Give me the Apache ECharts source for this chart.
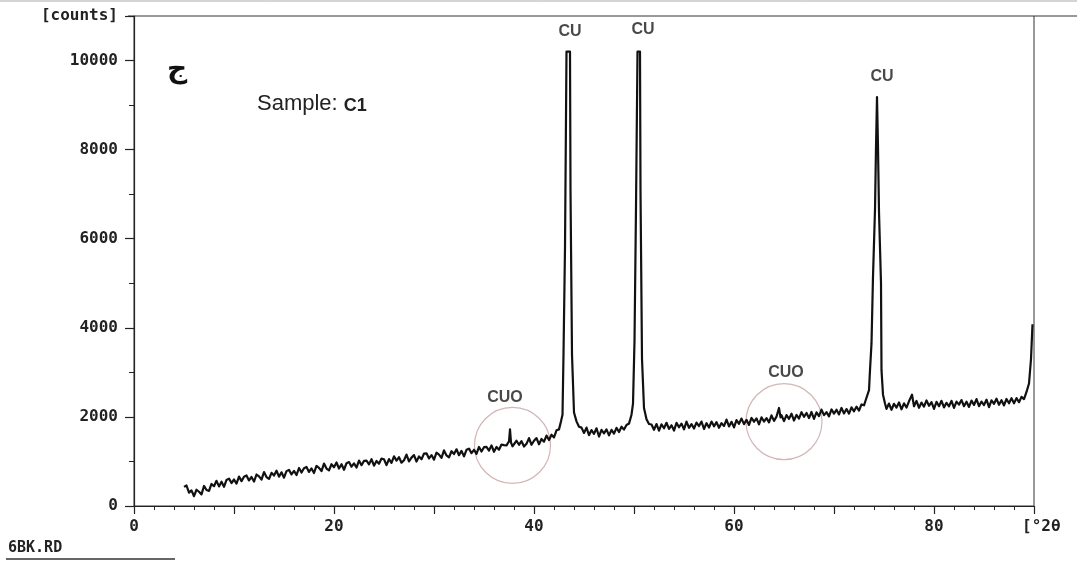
<!DOCTYPE html>
<html>
<head>
<meta charset="utf-8">
<script src="https://cdn.jsdelivr.net/npm/echarts@6/dist/echarts.min.js"></script>
<style>
html,body{margin:0;padding:0;background:#fff;}
#chart{width:1077px;height:563px;}
</style>
</head>
<body>
<div id="chart"></div>
<script>
// X-ray diffraction scan: [2θ (degrees), counts]
const scan = [
[5.00,430],[5.25,460],[5.50,300],[5.75,350],[6.00,220],[6.25,365],[6.50,320],[6.75,260],
[7.00,450],[7.25,360],[7.50,340],[7.75,495],[8.00,445],[8.25,565],[8.50,440],[8.75,545],
[9.00,430],[9.25,585],[9.50,615],[9.75,515],[10.00,595],[10.25,503],[10.50,661],[10.75,559],
[11.00,657],[11.25,685],[11.50,573],[11.75,651],[12.00,549],[12.25,707],[12.50,665],[12.75,593],
[13.00,761],[13.25,649],[13.50,607],[13.75,745],[14.00,683],[14.25,791],[14.50,659],[14.75,757],
[15.00,635],[15.25,783],[15.50,811],[15.75,709],[16.00,787],[16.25,695],[16.50,853],[16.75,751],
[17.00,849],[17.25,877],[17.50,765],[17.75,843],[18.00,741],[18.25,899],[18.50,857],[18.75,785],
[19.00,953],[19.25,841],[19.50,799],[19.75,937],[20.00,870],[20.25,976],[20.50,842],[20.75,938],
[21.00,814],[21.25,960],[21.50,986],[21.75,882],[22.00,958],[22.25,864],[22.50,1020],[22.75,916],
[23.00,1012],[23.25,1018],[23.50,934],[23.75,1050],[24.00,906],[24.25,1012],[24.50,948],[24.75,1064],
[25.00,1050],[25.25,916],[25.50,1052],[25.75,968],[26.00,1114],[26.25,1020],[26.50,1096],[26.75,972],
[27.00,1028],[27.25,1154],[27.50,1000],[27.75,1086],[28.00,1142],[28.25,998],[28.50,1114],[28.75,1050],
[29.00,1176],[29.25,1182],[29.50,1068],[29.75,1144],[30.00,1040],[30.25,1197],[30.50,1154],[30.75,1081],
[31.00,1248],[31.25,1135],[31.50,1092],[31.75,1229],[32.00,1166],[32.25,1273],[32.50,1140],[32.75,1237],
[33.00,1114],[33.25,1261],[33.50,1288],[33.75,1185],[34.00,1262],[34.25,1169],[34.50,1326],[34.75,1223],
[35.00,1320],[35.25,1327],[35.50,1244],[35.75,1361],[36.00,1218],[36.25,1325],[36.50,1262],[36.75,1379],
[37.00,1366],[37.25,1363],[37.40,1390],[37.50,1450],[37.60,1720],[37.70,1430],[37.85,1340],[38.00,1315],
[38.25,1465],[38.50,1375],[38.75,1455],[39.00,1335],[39.25,1395],[39.50,1525],[39.75,1375],[40.00,1465],
[40.25,1525],[40.50,1385],[40.75,1505],[41.00,1445],[41.25,1580],[41.50,1480],[41.75,1600],[42.00,1540],
[42.25,1700],[42.50,1720],[42.70,1900],[42.85,2050],[42.95,3400],[43.10,5800],[43.25,10200],[43.60,10200],
[43.65,7100],[43.80,3400],[44.00,2100],[44.25,1900],[44.50,1780],[44.75,1760],[45.00,1640],[45.25,1760],
[45.50,1590],[45.75,1705],[46.00,1620],[46.25,1745],[46.50,1560],[46.75,1710],[47.00,1630],[47.25,1720],
[47.50,1585],[47.75,1710],[48.00,1625],[48.25,1755],[48.50,1660],[48.75,1780],[49.00,1715],[49.25,1820],
[49.50,1850],[49.75,2050],[49.90,2300],[50.05,3700],[50.20,6700],[50.35,10200],[50.60,10200],[50.65,7100],
[50.80,3300],[51.00,2200],[51.25,1950],[51.50,1840],[51.75,1830],[52.00,1710],[52.25,1840],[52.50,1692],
[52.75,1834],[53.00,1746],[53.25,1868],[53.50,1730],[53.75,1812],[54.00,1694],[54.25,1866],[54.50,1768],
[54.75,1850],[55.00,1722],[55.25,1894],[55.50,1756],[55.75,1838],[56.00,1740],[56.25,1872],[56.50,1794],
[56.75,1896],[57.00,1728],[57.25,1860],[57.50,1762],[57.75,1895],[58.00,1788],[58.25,1882],[58.50,1756],
[58.75,1860],[59.00,1795],[59.25,1940],[59.50,1785],[59.75,1890],[60.00,1765],[60.25,1930],[60.50,1846],
[60.75,1962],[61.00,1838],[61.25,1934],[61.50,1820],[61.75,1976],[62.00,1892],[62.25,1968],[62.50,1834],
[62.75,1990],[63.00,1896],[63.25,1972],[63.50,1878],[63.75,2034],[64.00,1910],[64.25,2006],[64.50,2200],
[64.65,1990],[64.75,2038],[65.00,1904],[65.25,2040],[65.50,1956],[65.75,2072],[66.00,1918],[66.25,2044],
[66.50,1960],[66.75,2106],[67.00,2002],[67.25,2088],[67.50,1974],[67.75,2110],[68.00,1956],[68.25,2102],
[68.50,2018],[68.75,2164],[69.00,2040],[69.25,2106],[69.50,2012],[69.75,2168],[70.00,2074],[70.25,2160],
[70.50,2056],[70.75,2202],[71.00,2078],[71.25,2176],[71.50,2074],[71.75,2214],[72.00,2126],[72.25,2230],
[72.50,2140],[72.75,2280],[73.00,2260],[73.25,2430],[73.50,2600],[73.60,3050],[73.75,3650],[73.90,5150],
[74.10,6650],[74.20,8050],[74.30,9180],[74.40,8050],[74.50,6600],[74.70,5000],[74.75,3050],[74.90,2500],
[75.10,2300],[75.25,2180],[75.50,2300],[75.75,2160],[76.00,2295],[76.25,2210],[76.50,2325],[76.75,2170],
[77.00,2305],[77.25,2210],[77.50,2350],[77.80,2500],[78.00,2240],[78.25,2360],[78.50,2205],[78.75,2322],
[79.00,2230],[79.25,2370],[79.50,2250],[79.75,2330],[80.00,2180],[80.25,2340],[80.50,2240],[80.75,2362],
[81.00,2214],[81.25,2316],[81.50,2238],[81.75,2360],[82.00,2202],[82.25,2344],[82.50,2276],[82.75,2378],
[83.00,2240],[83.25,2342],[83.50,2224],[83.75,2366],[84.00,2268],[84.25,2400],[84.50,2242],[84.75,2344],
[85.00,2266],[85.25,2388],[85.50,2220],[85.75,2372],[86.00,2295],[86.25,2408],[86.50,2271],[86.75,2374],
[87.00,2258],[87.25,2402],[87.50,2306],[87.75,2420],[88.00,2306],[88.25,2422],[88.50,2330],[88.75,2450],
[89.00,2400],[89.25,2560],[89.50,2750],[89.70,3300],[89.85,4080]
];

// Phase labels placed above peaks: [2θ, counts, text]
const peakLabels = [
  [43.6, 10640, 'CU'],
  [50.9, 10700, 'CU'],
  [74.8, 9650, 'CU'],
  [37.1, 2440, 'CUO'],
  [65.2, 3000, 'CUO']
];
// Highlight circles around CuO reflections: [2θ, counts]
const circleCenters = [
  [37.85, 1360],
  [65.0, 1895]
];

const xMin = 0, xMax = 90, xInterval = 10;
const yMin = 0, yMax = 11000, yInterval = 2000;

const monoFont = '"DejaVu Sans Mono", "Liberation Mono", monospace';
const sansFont = '"Liberation Sans", Arial, sans-serif';

const chart = echarts.init(document.getElementById('chart'), null, {renderer: 'canvas'});
chart.setOption({
  animation: false,
  backgroundColor: '#ffffff',
  grid: {left: 134, right: 43, top: 16, bottom: 57, show: true, borderColor: '#333', borderWidth: 1, backgroundColor: 'transparent'},
  xAxis: {
    type: 'value', min: xMin, max: xMax, interval: xInterval,
    name: '[°2θ', nameLocation: 'end', nameGap: -12,
    nameTextStyle: {fontFamily: monoFont, fontWeight: 'bold', fontSize: 16, color: '#222', align: 'left', verticalAlign: 'top', padding: [13, 0, 0, 0]},
    axisLine: {lineStyle: {color: '#222', width: 1.2}},
    axisTick: {length: 8, lineStyle: {color: '#222', width: 1.2}},
    minorTick: {show: true, splitNumber: 5, length: 4, lineStyle: {color: '#222', width: 1}},
    splitLine: {show: false},
    axisLabel: {
      margin: 13, fontFamily: monoFont, fontWeight: 'bold', fontSize: 16, color: '#222',
      formatter: v => (v % 20 === 0 && v < 90) ? String(v) : ''
    }
  },
  yAxis: {
    type: 'value', min: yMin, max: yMax, interval: yInterval,
    name: '[counts]', nameLocation: 'end', nameGap: 0,
    nameTextStyle: {fontFamily: monoFont, fontWeight: 'bold', fontSize: 16, color: '#222', align: 'right', verticalAlign: 'middle', padding: [0, 16, 0, 0]},
    axisLine: {show: true, lineStyle: {color: '#222', width: 1.2}},
    axisTick: {show: true, length: 9, lineStyle: {color: '#222', width: 1.2}},
    minorTick: {show: true, splitNumber: 2, length: 5, lineStyle: {color: '#222', width: 1}},
    splitLine: {show: false},
    axisLabel: {
      margin: 16, fontFamily: monoFont, fontWeight: 'bold', fontSize: 16, color: '#222',
      formatter: v => (v % 2000 === 0 && v <= 10000) ? String(v) : ''
    }
  },
  series: [
    {
      type: 'line', data: scan, showSymbol: false, symbol: 'none',
      lineStyle: {color: '#111', width: 2.2, join: 'round'}, z: 3
    },
    {
      type: 'scatter', data: circleCenters, symbol: 'circle', symbolSize: 76,
      itemStyle: {color: 'rgba(0,0,0,0)', borderColor: '#c8a2a2', borderWidth: 1.2}, z: 2, silent: true
    },
    {
      type: 'scatter', symbolSize: 1, itemStyle: {color: 'rgba(0,0,0,0)'},
      data: peakLabels.map(p => ({value: [p[0], p[1]], name: p[2]})),
      label: {show: true, position: 'inside', formatter: p => p.name, fontFamily: sansFont, fontWeight: 'bold', fontSize: 16, color: '#1a1a1a'},
      z: 4, silent: true
    }
  ],
  graphic: [
    {type: 'line', shape: {x1: 1034, y1: 16, x2: 1077, y2: 16}, style: {stroke: '#333', lineWidth: 1}},
    {type: 'line', shape: {x1: 128, y1: 16, x2: 134, y2: 16}, style: {stroke: '#333', lineWidth: 1}},
    {type: 'line', shape: {x1: 0, y1: 1, x2: 1077, y2: 1}, style: {stroke: '#aaa', lineWidth: 1}},
    {type: 'text', left: 167, top: 56, style: {text: 'ج', fontFamily: '"DejaVu Sans", sans-serif', fontWeight: 'bold', fontSize: 28, fill: '#111'}},
    {type: 'text', left: 257, top: 93, style: {
      text: '{a|Sample: }{b|C1}',
      rich: {
        a: {fontFamily: sansFont, fontSize: 22, fill: '#222', color: '#222', verticalAlign: 'bottom'},
        b: {fontFamily: sansFont, fontSize: 18, fontWeight: 'bold', fill: '#222', color: '#222', verticalAlign: 'bottom'}
      }
    }},
    {type: 'text', left: 8, top: 541, style: {text: '6BK.RD', fontFamily: monoFont, fontWeight: 'bold', fontSize: 15, fill: '#222'}},
    {type: 'line', shape: {x1: 6, y1: 559, x2: 175, y2: 559}, style: {stroke: '#333', lineWidth: 1.5}}
  ]
});
</script>
</body>
</html>
